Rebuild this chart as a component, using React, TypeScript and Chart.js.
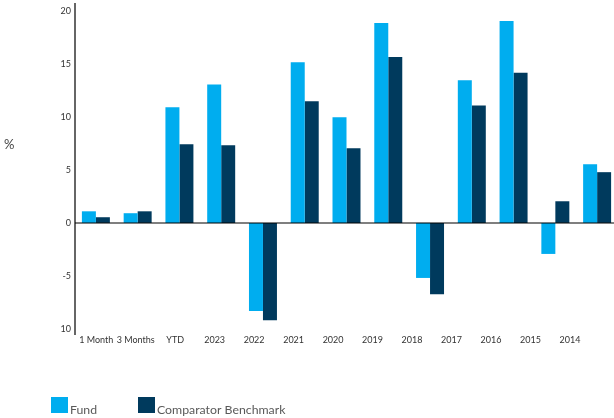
import React, { useEffect, useRef } from "react";
import { Chart, registerables } from "chart.js";

Chart.register(...registerables);

const categories = ["1 Month", "3 Months", "YTD", "2023", "2022", "2021", "2020", "2019", "2018", "2017", "2016", "2015", "2014"];
const fundValues = [1.1, 0.92, 10.95, 13.1, -8.33, 15.2, 10.0, 18.9, -5.2, 13.5, 19.1, -2.93, 5.55];
const benchmarkValues = [0.54, 1.1, 7.45, 7.35, -9.2, 11.5, 7.07, 15.7, -6.75, 11.1, 14.2, 2.05, 4.8];
const seriesNames = ["Fund", "Comparator Benchmark"];
const seriesColors = ["#00adef", "#003a5d"];
const yTickValues = [-10, -5, 0, 5, 10, 15, 20];
const yTickLabels = ["10", "-5", "0", "5", "10", "15", "20"];
const yAxisUnit = "%";

const FONT = "Lato, 'Open Sans', sans-serif";

const extrasPlugin = {
  id: "extras",
  afterDatasetsDraw(chart: any) {
    const { ctx, chartArea, scales } = chart;
    const y0 = scales.y.getPixelForValue(0);
    ctx.save();
    ctx.strokeStyle = "rgba(0,0,0,0.5)";
    ctx.lineWidth = 2;
    ctx.beginPath();
    ctx.moveTo(chartArea.left, y0);
    ctx.lineTo(chartArea.right, y0);
    ctx.stroke();
    ctx.restore();
  },
  afterDraw(chart: any) {
    const { ctx } = chart;
    ctx.save();
    ctx.fillStyle = "#444";
    ctx.font = `13px ${FONT}`;
    ctx.textBaseline = "middle";
    ctx.textAlign = "left";
    ctx.fillText(yAxisUnit, 4, 145);
    const items = chart.data.datasets;
    const boxX = [51, 138];
    ctx.font = `12.3px ${FONT}`;
    ctx.textBaseline = "alphabetic";
    items.forEach((ds: any, i: number) => {
      ctx.fillStyle = ds.backgroundColor;
      ctx.fillRect(boxX[i], 397, 17, 16);
      ctx.fillStyle = "#595959";
      ctx.fillText(ds.label, boxX[i] + 19, 414);
    });
    ctx.restore();
  },
};

export default function App() {
  const ref = useRef<HTMLCanvasElement | null>(null);
  useEffect(() => {
    if (!ref.current) return;
    Chart.defaults.font.family = FONT;
    const chart = new Chart(ref.current, {
      type: "bar",
      data: {
        labels: categories,
        datasets: [
          { label: seriesNames[0], data: fundValues, backgroundColor: seriesColors[0], categoryPercentage: 0.67, barPercentage: 1.0 },
          { label: seriesNames[1], data: benchmarkValues, backgroundColor: seriesColors[1], categoryPercentage: 0.67, barPercentage: 1.0 },
        ],
      },
      options: {
        responsive: false,
        animation: false,
        devicePixelRatio: 1,
        layout: { padding: { top: 4, left: 0, right: 0, bottom: 0 } },
        plugins: { legend: { display: false }, tooltip: { enabled: false } },
        scales: {
          x: { type: "category", display: false },
          x2: {
            type: "linear",
            position: "bottom",
            bounds: "data",
            offset: false,
            min: -0.537,
            max: 13.217,
            grid: { display: false, offset: false, drawTicks: false, tickLength: 0 },
            border: { display: false },
            afterBuildTicks: (scale: any) => {
              scale.ticks = categories.map((_, i) => ({ value: i }));
            },
            afterFit: (scale: any) => {
              scale.height = 84;
              scale.paddingLeft = 0;
              scale.paddingRight = 0;
            },
            ticks: {
              autoSkip: false,
              maxRotation: 0,
              padding: 1,
              color: "#333",
              font: { size: 9 },
              callback: (_v: any, i: number) => categories[i],
            },
          },
          y: {
            bounds: "data",
            min: -10.5,
            max: 20.7,
            grid: { display: false, drawTicks: false, tickLength: 0 },
            border: { display: true, color: "#666", width: 2 },
            afterBuildTicks: (scale: any) => {
              scale.ticks = yTickValues.map((v) => ({ value: v }));
            },
            afterFit: (scale: any) => {
              scale.width = 75;
              scale.paddingTop = 0;
              scale.paddingBottom = 0;
            },
            ticks: {
              autoSkip: false,
              padding: 4,
              color: "#333",
              font: { size: 9 },
              callback: (_v: any, i: number) => yTickLabels[i],
            },
          },
        },
      } as any,
      plugins: [extrasPlugin],
    });
    return () => chart.destroy();
  }, []);
  return (
    <div style={{ position: "absolute", left: 0, top: 0, width: 614, height: 418, overflow: "hidden", background: "#fff" }}>
      <canvas ref={ref} width={618} height={418} style={{ width: 618, height: 418, display: "block" }} />
    </div>
  );
}
